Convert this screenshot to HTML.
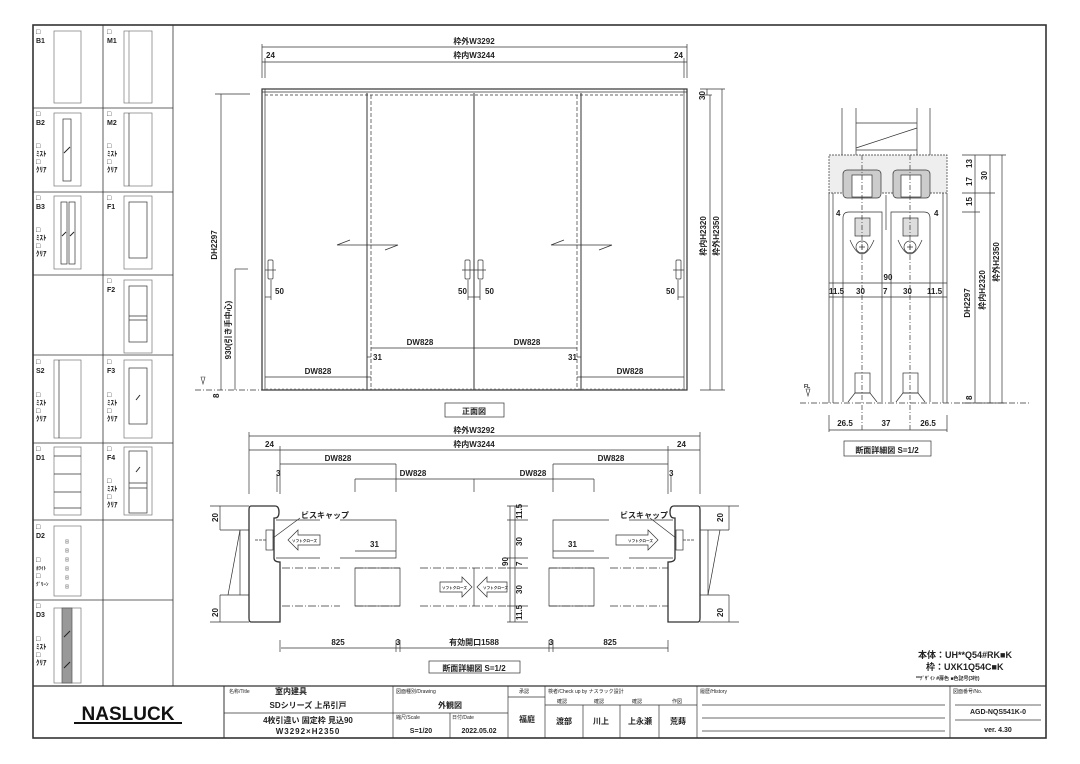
<!DOCTYPE html>
<html><head><meta charset="utf-8"><style>
html,body{margin:0;padding:0;background:#fff}
svg{display:block}
text{font-family:"Liberation Sans","Noto Sans CJK JP",sans-serif;fill:#222}
.t{font-size:8px;font-weight:bold}
.s{font-size:5px}
</style></head><body>
<svg width="1080" height="764" viewBox="0 0 1080 764" xmlns="http://www.w3.org/2000/svg">
<g fill="none" stroke="#333" stroke-width="0.8">
<rect x="33" y="25" width="1013" height="713" stroke-width="1.6"/>
<line x1="33" y1="686" x2="1046" y2="686" stroke-width="1.2"/>
<line x1="173" y1="25" x2="173" y2="686"/>
<line x1="103" y1="25" x2="103" y2="686"/>
<line x1="33" y1="108" x2="173" y2="108"/>
<line x1="33" y1="192" x2="173" y2="192"/>
<line x1="33" y1="275" x2="173" y2="275"/>
<line x1="33" y1="355" x2="173" y2="355"/>
<line x1="33" y1="443" x2="173" y2="443"/>
<line x1="33" y1="520" x2="173" y2="520"/>
<line x1="33" y1="600" x2="173" y2="600"/>
</g>
<g fill="none" stroke="#777" stroke-width="0.7">
<rect x="54" y="31" width="27" height="72"/>
<rect x="124" y="31" width="28" height="72"/><line x1="129" y1="31" x2="129" y2="103"/>
<rect x="54" y="113" width="27" height="73"/><rect x="63" y="119" width="8" height="62" stroke="#333"/>
<rect x="124" y="113" width="28" height="73"/><line x1="129" y1="113" x2="129" y2="186" stroke="#333"/>
<rect x="54" y="196" width="27" height="73"/><rect x="61" y="202" width="6" height="62" stroke="#333"/><rect x="69" y="202" width="6" height="62" stroke="#333"/>
<rect x="124" y="196" width="28" height="73"/><rect x="129" y="202" width="18" height="56" stroke="#333"/>
<rect x="124" y="280" width="28" height="73"/><rect x="129" y="286" width="18" height="56" stroke="#333"/><line x1="129" y1="316" x2="147" y2="316" stroke="#333"/><line x1="129" y1="320" x2="147" y2="320" stroke="#333"/>
<rect x="54" y="360" width="27" height="78"/><line x1="59" y1="360" x2="59" y2="438" stroke="#333"/>
<rect x="124" y="360" width="28" height="78"/><rect x="129" y="368" width="18" height="56" stroke="#333"/>
<rect x="54" y="447" width="27" height="68"/><line x1="54" y1="456" x2="81" y2="456" stroke="#333"/><line x1="54" y1="474" x2="81" y2="474" stroke="#333"/><line x1="54" y1="492" x2="81" y2="492" stroke="#333"/><line x1="54" y1="508" x2="81" y2="508" stroke="#333"/>
<rect x="124" y="447" width="28" height="68"/><rect x="129" y="451" width="18" height="62" stroke="#333"/><line x1="129" y1="483" x2="147" y2="483" stroke="#333"/><line x1="129" y1="488" x2="147" y2="488" stroke="#333"/>
<rect x="54" y="526" width="27" height="70"/>
<rect x="54" y="608" width="27" height="75"/><rect x="62" y="608" width="10" height="75" fill="#999" stroke="#555"/>
</g>
<g stroke="#222" stroke-width="1">
<line x1="64" y1="153" x2="70" y2="147"/><line x1="62" y1="236" x2="66" y2="232"/><line x1="70" y1="236" x2="74" y2="232"/>
<line x1="136" y1="400" x2="140" y2="395"/><line x1="136" y1="472" x2="140" y2="467"/>
<line x1="64" y1="637" x2="70" y2="631"/><line x1="64" y1="668" x2="70" y2="662"/>
</g>
<g fill="#666" font-size="4"><text x="65" y="543">⊠</text><text x="65" y="552">⊠</text><text x="65" y="561">⊠</text><text x="65" y="570">⊠</text><text x="65" y="579">⊠</text><text x="65" y="588">⊠</text></g>
<g class="t" style="font-size:7px">
<text x="36" y="34">□</text><text x="36" y="43">B1</text>
<text x="107" y="34">□</text><text x="107" y="43">M1</text>
<text x="36" y="116">□</text><text x="36" y="125">B2</text><text x="36" y="148">□</text><text x="36" y="156">ﾐｽﾄ</text><text x="36" y="164">□</text><text x="36" y="172">ｸﾘｱ</text>
<text x="107" y="116">□</text><text x="107" y="125">M2</text><text x="107" y="148">□</text><text x="107" y="156">ﾐｽﾄ</text><text x="107" y="164">□</text><text x="107" y="172">ｸﾘｱ</text>
<text x="36" y="200">□</text><text x="36" y="209">B3</text><text x="36" y="232">□</text><text x="36" y="240">ﾐｽﾄ</text><text x="36" y="248">□</text><text x="36" y="256">ｸﾘｱ</text>
<text x="107" y="200">□</text><text x="107" y="209">F1</text>
<text x="107" y="283">□</text><text x="107" y="292">F2</text>
<text x="36" y="364">□</text><text x="36" y="373">S2</text><text x="36" y="397">□</text><text x="36" y="405">ﾐｽﾄ</text><text x="36" y="413">□</text><text x="36" y="421">ｸﾘｱ</text>
<text x="107" y="364">□</text><text x="107" y="373">F3</text><text x="107" y="397">□</text><text x="107" y="405">ﾐｽﾄ</text><text x="107" y="413">□</text><text x="107" y="421">ｸﾘｱ</text>
<text x="36" y="451">□</text><text x="36" y="460">D1</text>
<text x="107" y="451">□</text><text x="107" y="460">F4</text><text x="107" y="483">□</text><text x="107" y="491">ﾐｽﾄ</text><text x="107" y="499">□</text><text x="107" y="507">ｸﾘｱ</text>
<text x="36" y="529">□</text><text x="36" y="538">D2</text><text x="36" y="562">□</text><text x="36" y="570" style="font-size:5px">ﾎﾜｲﾄ</text><text x="36" y="578">□</text><text x="36" y="586" style="font-size:5px">ｸﾞﾘｰﾝ</text>
<text x="36" y="608">□</text><text x="36" y="617">D3</text><text x="36" y="641">□</text><text x="36" y="649">ﾐｽﾄ</text><text x="36" y="657">□</text><text x="36" y="665">ｸﾘｱ</text>
</g>

<!-- FRONT ELEVATION -->
<g fill="none" stroke="#333" stroke-width="0.7">
<line x1="262" y1="47" x2="687" y2="47"/><line x1="262" y1="62" x2="687" y2="62"/>
<line x1="262" y1="44" x2="262" y2="78"/><line x1="687" y1="44" x2="687" y2="78"/>
<line x1="265" y1="58" x2="265" y2="78"/><line x1="684" y1="58" x2="684" y2="78"/>
<rect x="262" y="89" width="425" height="301" stroke-width="1.2"/>
<line x1="265" y1="89" x2="265" y2="390"/><line x1="684" y1="89" x2="684" y2="390"/>
<line x1="262" y1="92" x2="687" y2="92"/><line x1="265" y1="95" x2="684" y2="95" stroke-dasharray="3 2"/>
<line x1="367" y1="93" x2="367" y2="390" stroke-width="1"/><line x1="474" y1="93" x2="474" y2="390" stroke-width="1"/><line x1="581" y1="93" x2="581" y2="390" stroke-width="1"/>
<line x1="371" y1="95" x2="371" y2="390" stroke-dasharray="4 2"/><line x1="577" y1="95" x2="577" y2="390" stroke-dasharray="4 2"/>
<line x1="195" y1="390" x2="262" y2="390" stroke-dasharray="6 2 1 2"/>
<line x1="266" y1="389" x2="683" y2="389" stroke-dasharray="2 2" stroke="#888"/>
<line x1="221" y1="94" x2="221" y2="390"/><line x1="215" y1="94" x2="250" y2="94"/>
<line x1="235" y1="269" x2="235" y2="390"/><line x1="235" y1="269" x2="248" y2="269"/>
<rect x="268" y="260" width="5" height="19" rx="1"/><rect x="465" y="260" width="5" height="19" rx="1"/><rect x="478" y="260" width="5" height="19" rx="1"/><rect x="676" y="260" width="5" height="19" rx="1"/>
<line x1="265" y1="270" x2="276" y2="270"/><line x1="462" y1="270" x2="486" y2="270"/><line x1="673" y1="270" x2="684" y2="270"/>
<line x1="265" y1="297" x2="271" y2="297"/><line x1="468" y1="297" x2="480" y2="297"/><line x1="678" y1="297" x2="684" y2="297"/>
<line x1="271" y1="280" x2="271" y2="300"/><line x1="468" y1="280" x2="468" y2="300"/><line x1="480" y1="280" x2="480" y2="300"/><line x1="678" y1="280" x2="678" y2="300"/>
<path d="M337 245 L350 240 M337 245 L398 245 M385 250 L398 245"/>
<path d="M551 245 L564 240 M551 245 L612 245 M599 250 L612 245"/>
<line x1="371" y1="348" x2="577" y2="348"/>
<line x1="265" y1="377" x2="371" y2="377"/><line x1="577" y1="377" x2="684" y2="377"/>
<line x1="367" y1="357" x2="371" y2="357"/><line x1="577" y1="357" x2="581" y2="357"/>
<line x1="700" y1="89" x2="725" y2="89"/><line x1="700" y1="95" x2="712" y2="95"/><line x1="700" y1="390" x2="725" y2="390"/>
<line x1="707" y1="89" x2="707" y2="95"/><line x1="710" y1="95" x2="710" y2="390"/><line x1="722" y1="89" x2="722" y2="390"/>
<rect x="445" y="403" width="59" height="14"/>
<path d="M201 377 L205 377 L203 384 Z" stroke-width="0.6"/>
</g>
<g class="t">
<text x="474" y="44" text-anchor="middle">枠外W3292</text>
<text x="474" y="58" text-anchor="middle">枠内W3244</text>
<text x="266" y="58">24</text><text x="674" y="58">24</text>
<text x="275" y="294">50</text><text x="458" y="294">50</text><text x="485" y="294">50</text><text x="666" y="294">50</text>
<text x="420" y="345" text-anchor="middle">DW828</text><text x="527" y="345" text-anchor="middle">DW828</text>
<text x="318" y="374" text-anchor="middle">DW828</text><text x="630" y="374" text-anchor="middle">DW828</text>
<text x="373" y="360">31</text><text x="568" y="360">31</text>
<text x="474" y="414" text-anchor="middle">正面図</text>
<text transform="translate(217,245) rotate(-90)" text-anchor="middle">DH2297</text>
<text transform="translate(231,330) rotate(-90)" text-anchor="middle">930(引き手中心)</text>
<text transform="translate(706,236) rotate(-90)" text-anchor="middle">枠内H2320</text>
<text transform="translate(719,236) rotate(-90)" text-anchor="middle">枠外H2350</text>
<text transform="translate(705,100) rotate(-90)">30</text>
<text transform="translate(219,398) rotate(-90)">8</text>
</g>

<!-- RIGHT SECTION -->
<g fill="none" stroke="#333" stroke-width="0.7">
<line x1="842" y1="108" x2="842" y2="155"/><line x1="856" y1="108" x2="856" y2="155"/>
<line x1="917" y1="108" x2="917" y2="155"/><line x1="930" y1="108" x2="930" y2="155"/>
<line x1="856" y1="123" x2="917" y2="123"/><line x1="856" y1="150" x2="917" y2="150"/><line x1="856" y1="148" x2="917" y2="128"/>
<rect x="829" y="155" width="118" height="38" fill="#eee" stroke-dasharray="2 1"/>
<rect x="843" y="170" width="38" height="28" rx="4" fill="#ccc"/><rect x="893" y="170" width="37" height="28" rx="4" fill="#ccc"/>
<rect x="852" y="175" width="20" height="22" fill="#fff"/><rect x="901" y="175" width="20" height="22" fill="#fff"/>
<line x1="829" y1="193" x2="829" y2="403"/><line x1="833" y1="193" x2="833" y2="403"/>
<line x1="947" y1="193" x2="947" y2="403"/><line x1="943" y1="193" x2="943" y2="403"/>
<path d="M843 402 V218 Q843 212 849 212 H882 V402"/>
<path d="M891 402 V212 H924 Q930 212 930 218 V402"/>
<rect x="855" y="218" width="15" height="18" fill="#ddd"/><rect x="903" y="218" width="15" height="18" fill="#ddd"/>
<path d="M850 240 Q862 268 874 240" /><path d="M898 240 Q910 268 922 240"/>
<circle cx="862" cy="247" r="6"/><circle cx="910" cy="247" r="6"/>
<path d="M859 247h6M862 244v6M907 247h6M910 244v6"/>
<rect x="855" y="373" width="15" height="20"/><rect x="903" y="373" width="15" height="20"/>
<path d="M848 402 L855 393 H870 L877 402"/><path d="M896 402 L903 393 H918 L925 402"/>
<line x1="862" y1="155" x2="862" y2="430" stroke-dasharray="5 2 1 2"/><line x1="910" y1="155" x2="910" y2="430" stroke-dasharray="5 2 1 2"/>
<line x1="886" y1="195" x2="886" y2="230"/>
<line x1="800" y1="403" x2="1030" y2="403" stroke-dasharray="6 2 1 2"/>
<line x1="829" y1="283" x2="947" y2="283"/><line x1="829" y1="297" x2="947" y2="297"/>
<line x1="829" y1="430" x2="947" y2="430"/><line x1="829" y1="415" x2="829" y2="432"/><line x1="947" y1="415" x2="947" y2="432"/>
<line x1="962" y1="155" x2="1006" y2="155"/><line x1="962" y1="193" x2="995" y2="193"/><line x1="962" y1="212" x2="980" y2="212"/><line x1="962" y1="403" x2="1006" y2="403"/>
<line x1="975" y1="155" x2="975" y2="212"/><line x1="975" y1="212" x2="975" y2="403"/>
<line x1="990" y1="155" x2="990" y2="403"/><line x1="1002" y1="155" x2="1002" y2="403"/>
<rect x="844" y="441" width="87" height="15"/>
<path d="M806 389 L810 389 L808 396 Z" stroke-width="0.6"/>
</g>
<g class="t">
<text x="836" y="216">4</text><text x="934" y="216">4</text>
<text x="888" y="280" text-anchor="middle">90</text>
<text x="829" y="294">11.5</text><text x="856" y="294">30</text><text x="883" y="294">7</text><text x="903" y="294">30</text><text x="927" y="294">11.5</text>
<text x="845" y="426" text-anchor="middle">26.5</text><text x="886" y="426" text-anchor="middle">37</text><text x="928" y="426" text-anchor="middle">26.5</text>
<text x="887" y="453" text-anchor="middle">断面詳細図 S=1/2</text>
<text transform="translate(972,168) rotate(-90)">13</text>
<text transform="translate(972,186) rotate(-90)">17</text>
<text transform="translate(972,206) rotate(-90)">15</text>
<text transform="translate(987,180) rotate(-90)">30</text>
<text transform="translate(970,303) rotate(-90)" text-anchor="middle">DH2297</text>
<text transform="translate(985,290) rotate(-90)" text-anchor="middle">枠内H2320</text>
<text transform="translate(999,262) rotate(-90)" text-anchor="middle">枠外H2350</text>
<text transform="translate(972,400) rotate(-90)">8</text>
<text x="804" y="388" style="font-size:5px">FL</text>
</g>

<!-- PLAN SECTION -->
<g fill="none" stroke="#333" stroke-width="0.7">
<line x1="249" y1="436" x2="700" y2="436"/><line x1="249" y1="450" x2="700" y2="450"/>
<line x1="249" y1="432" x2="249" y2="494"/><line x1="700" y1="432" x2="700" y2="494"/>
<line x1="280" y1="446" x2="280" y2="494"/><line x1="668" y1="446" x2="668" y2="494"/>
<line x1="280" y1="464" x2="396" y2="464"/><line x1="553" y1="464" x2="668" y2="464"/>
<line x1="355" y1="479" x2="594" y2="479"/>
<line x1="277" y1="475" x2="277" y2="492"/><line x1="671" y1="475" x2="671" y2="492"/>
<line x1="396" y1="464" x2="396" y2="492"/><line x1="553" y1="464" x2="553" y2="492"/><line x1="355" y1="479" x2="355" y2="492"/><line x1="594" y1="479" x2="594" y2="492"/><line x1="474" y1="479" x2="474" y2="492"/>
<path d="M251 506 H275 Q279 506 279 512 Q279 518 275 518 H274 V558 Q274 562 280 562 V622 H251 Q249 622 249 618 V510 Q249 506 251 506 Z" stroke-width="1.3"/>
<path d="M698 506 H674 Q670 506 670 512 Q670 518 674 518 H675 V558 Q675 562 668 562 V622 H698 Q700 622 700 618 V510 Q700 506 698 506 Z" stroke-width="1.3"/>
<rect x="266" y="530" width="7" height="20"/><rect x="676" y="530" width="7" height="20"/>
<line x1="255" y1="540" x2="266" y2="540" stroke-dasharray="3 1"/><line x1="683" y1="540" x2="694" y2="540" stroke-dasharray="3 1"/>
<line x1="220" y1="530" x2="249" y2="530"/><line x1="220" y1="595" x2="249" y2="595"/><line x1="240" y1="530" x2="240" y2="595"/><line x1="228" y1="595" x2="240" y2="530"/>
<line x1="700" y1="530" x2="729" y2="530"/><line x1="700" y1="595" x2="729" y2="595"/><line x1="708" y1="530" x2="708" y2="595"/><line x1="708" y1="595" x2="720" y2="530"/>
<line x1="210" y1="506" x2="249" y2="506"/><line x1="210" y1="622" x2="249" y2="622"/><line x1="220" y1="506" x2="220" y2="530"/><line x1="220" y1="595" x2="220" y2="622"/>
<line x1="700" y1="506" x2="739" y2="506"/><line x1="700" y1="622" x2="739" y2="622"/><line x1="729" y1="506" x2="729" y2="530"/><line x1="729" y1="595" x2="729" y2="622"/>
<path d="M276 520 H320 M340 520 H396 V558 H340 M320 558 H276" />
<path d="M673 520 H629 M609 520 H553 V558 H609 M629 558 H673" />
<line x1="355" y1="551" x2="396" y2="551"/><line x1="553" y1="551" x2="594" y2="551"/>
<path d="M282 568 H340 M355 568 H400 M420 568 H508 M282 606 H340 M355 606 H400 M420 606 H508" stroke-dasharray="8 2 1 2"/>
<path d="M549 568 H594 M610 568 H668 M549 606 H594 M610 606 H668" stroke-dasharray="8 2 1 2"/>
<rect x="355" y="568" width="45" height="38"/><rect x="549" y="568" width="45" height="38"/>
<line x1="474" y1="568" x2="474" y2="606"/>
<path d="M288 540 L298 530 V535 H320 V545 H298 V550 Z"/>
<path d="M658 540 L648 530 V535 H616 V545 H648 V550 Z"/>
<path d="M472 587 L462 577 V582 H440 V592 H462 V597 Z"/>
<path d="M477 587 L487 577 V582 H507 V592 H487 V597 Z"/>
<line x1="507" y1="506" x2="528" y2="506"/><line x1="507" y1="520" x2="528" y2="520"/><line x1="507" y1="558" x2="528" y2="558"/><line x1="507" y1="568" x2="528" y2="568"/><line x1="507" y1="606" x2="528" y2="606"/><line x1="507" y1="622" x2="528" y2="622"/>
<line x1="515" y1="506" x2="515" y2="622"/><line x1="510" y1="506" x2="510" y2="622"/>
<line x1="281" y1="648" x2="668" y2="648"/>
<line x1="280" y1="640" x2="280" y2="652"/><line x1="396" y1="640" x2="396" y2="652"/><line x1="400" y1="640" x2="400" y2="652"/><line x1="549" y1="640" x2="549" y2="652"/><line x1="553" y1="640" x2="553" y2="652"/><line x1="668" y1="640" x2="668" y2="652"/>
<line x1="273" y1="538" x2="300" y2="518"/><line x1="676" y1="538" x2="650" y2="518"/>
<rect x="429" y="661" width="91" height="12"/>
</g>
<g class="t">
<text x="474" y="433" text-anchor="middle">枠外W3292</text>
<text x="474" y="447" text-anchor="middle">枠内W3244</text>
<text x="265" y="447">24</text><text x="677" y="447">24</text>
<text x="338" y="461" text-anchor="middle">DW828</text><text x="611" y="461" text-anchor="middle">DW828</text>
<text x="413" y="476" text-anchor="middle">DW828</text><text x="533" y="476" text-anchor="middle">DW828</text>
<text x="276" y="476">3</text><text x="669" y="476">3</text>
<text x="301" y="518">ビスキャップ</text><text x="620" y="518">ビスキャップ</text>
<text x="370" y="547">31</text><text x="568" y="547">31</text>
<text x="338" y="645" text-anchor="middle">825</text><text x="398" y="645" text-anchor="middle">3</text>
<text x="474" y="645" text-anchor="middle">有効開口1588</text>
<text x="551" y="645" text-anchor="middle">3</text><text x="610" y="645" text-anchor="middle">825</text>
<text x="474" y="671" text-anchor="middle">断面詳細図 S=1/2</text>
<text transform="translate(218,522) rotate(-90)">20</text><text transform="translate(218,617) rotate(-90)">20</text>
<text transform="translate(723,522) rotate(-90)">20</text><text transform="translate(723,617) rotate(-90)">20</text>
<text transform="translate(522,519) rotate(-90)">11.5</text>
<text transform="translate(522,546) rotate(-90)">30</text>
<text transform="translate(508,566) rotate(-90)">90</text>
<text transform="translate(522,566) rotate(-90)">7</text>
<text transform="translate(522,594) rotate(-90)">30</text>
<text transform="translate(522,620) rotate(-90)">11.5</text>
</g>
<g style="font-size:3.6px;font-weight:bold" fill="#222">
<text x="292" y="542">ソフトクローズ</text><text x="628" y="542">ソフトクローズ</text>
<text x="442" y="589">ソフトクローズ</text><text x="483" y="589">ソフトクローズ</text>
</g>

<g class="t">
<text x="918" y="658" style="font-size:9px">本体：UH**Q54#RK■K</text>
<text x="926" y="670" style="font-size:9px">枠：UXK1Q54C■K</text>
<text x="916" y="680" style="font-size:5px">**ﾃﾞｻﾞｲﾝ #扉色 ■色記号(3桁)</text>
</g>

<!-- TITLE BLOCK -->
<g fill="none" stroke="#333" stroke-width="0.7">
<line x1="224" y1="686" x2="224" y2="738" stroke-width="1"/>
<line x1="393" y1="686" x2="393" y2="738"/>
<line x1="508" y1="686" x2="508" y2="738"/>
<line x1="545" y1="686" x2="545" y2="738"/>
<line x1="697" y1="686" x2="697" y2="738"/>
<line x1="950" y1="686" x2="950" y2="738"/>
<line x1="224" y1="713" x2="393" y2="713"/>
<line x1="393" y1="713" x2="508" y2="713"/><line x1="450" y1="713" x2="450" y2="738"/>
<line x1="508" y1="697" x2="545" y2="697"/>
<line x1="545" y1="705" x2="697" y2="705"/>
<line x1="583" y1="705" x2="583" y2="738"/><line x1="620" y1="705" x2="620" y2="738"/><line x1="659" y1="705" x2="659" y2="738"/>
<g stroke="#888" stroke-width="1.2"><line x1="702" y1="705" x2="945" y2="705"/><line x1="702" y1="718" x2="945" y2="718"/><line x1="702" y1="731" x2="945" y2="731"/>
<line x1="955" y1="705" x2="1041" y2="705"/><line x1="955" y1="720" x2="1041" y2="720"/></g>
</g>
<g fill="#111">
<rect x="74" y="722" width="108" height="2"/>
<text x="128" y="720" text-anchor="middle" style="font-size:19px;font-weight:900;fill:#111">NASLUCK</text>
<text class="s" x="229" y="693">名称/Title</text><text class="t" x="275" y="694">室内建具</text>
<text class="t" x="308" y="708" text-anchor="middle">SDシリーズ 上吊引戸</text>
<text class="t" x="308" y="723" text-anchor="middle">4枚引違い 固定枠 見込90</text>
<text class="t" x="308" y="734" text-anchor="middle" letter-spacing="1">W3292×H2350</text>
<text class="s" x="396" y="693">図面種別/Drawing</text>
<text class="t" x="450" y="708" text-anchor="middle">外観図</text>
<text class="s" x="396" y="719">縮尺/Scale</text><text class="s" x="452" y="719">日付/Date</text>
<text class="t" x="421" y="733" text-anchor="middle" style="font-size:7px">S=1/20</text>
<text class="t" x="479" y="733" text-anchor="middle" style="font-size:7px">2022.05.02</text>
<text class="s" x="519" y="693">承認</text>
<text class="t" x="527" y="722" text-anchor="middle">福庭</text>
<text class="s" x="548" y="693">検者/Check up by ナスラック設計</text>
<text class="s" x="557" y="703">確認</text><text class="s" x="594" y="703">確認</text><text class="s" x="632" y="703">確認</text><text class="s" x="672" y="703">作図</text>
<text class="t" x="564" y="724" text-anchor="middle">渡部</text><text class="t" x="601" y="724" text-anchor="middle">川上</text><text class="t" x="640" y="724" text-anchor="middle">上永瀬</text><text class="t" x="678" y="724" text-anchor="middle">荒蒔</text>
<text class="s" x="700" y="693">履歴/History</text>
<text class="s" x="953" y="693">図面番号/No.</text>
<text class="t" x="998" y="714" text-anchor="middle" style="font-size:7px">AGD-NQS541K-0</text>
<text class="t" x="998" y="732" text-anchor="middle" style="font-size:7px">ver. 4.30</text>
</g>
</svg>
</body></html>
